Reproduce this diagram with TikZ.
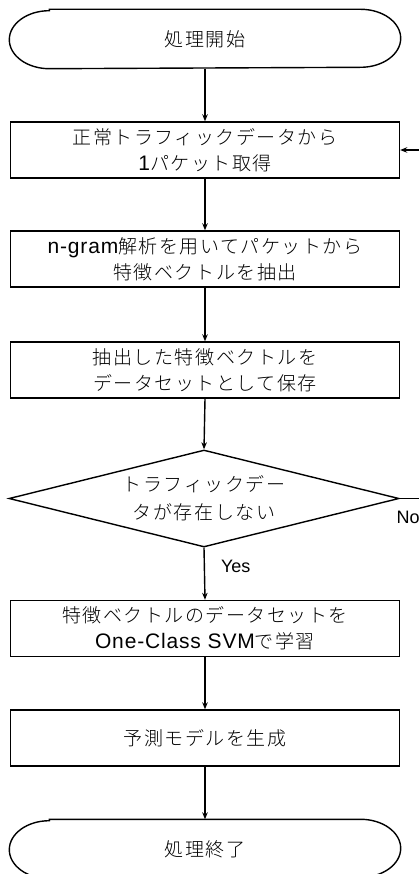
\documentclass[tikz,border=0pt]{standalone}
\usepackage{fontspec}
\setmainfont{Noto Sans CJK JP}[UprightFont={* Light}, LetterSpace=8]
\newfontfamily\latf{Liberation Sans}[LetterSpace=4]
\newfontfamily\arialf{Liberation Sans}
\newcommand{\lt}[1]{{\latf\fontsize{21}{26}\selectfont #1}}
\usetikzlibrary{arrows.meta,shapes.geometric}
\begin{document}
\begin{tikzpicture}[x=1pt,y=-1pt,
  line width=1.4pt,
  every node/.style={font=\fontsize{19}{26}\selectfont},
  box/.style={draw, rectangle, minimum width=389pt, minimum height=56pt, align=center, inner sep=0pt},
  termtext/.style={minimum width=390pt, minimum height=58pt, inner sep=0pt},
  decbox/.style={draw, diamond, minimum width=390pt, minimum height=97pt, aspect=3.9, inner sep=0pt, align=center, font=\fontsize{19}{28}\selectfont},
  arr/.style={-{Stealth[length=7pt,width=5.5pt]}},
  lbl/.style={font=\arialf\fontsize{18}{20}\selectfont, inner sep=0pt}
]
\useasboundingbox (0,0) rectangle (419,874);
\fill[white] (0,0) rectangle (419,874);

% start terminal
\node[termtext] (start) at (205,39) {処理開始};
\draw ([xshift=40pt]start.north west) -- ([xshift=-40pt]start.north east)
  arc[start angle=90, end angle=-90, x radius=40pt, y radius=29pt]
  -- ([xshift=40pt]start.south west)
  arc[start angle=-90, end angle=-270, x radius=40pt, y radius=29pt] -- cycle;

\node[box] (b1) at (205,150) {正常トラフィックデータから\\\lt{1}パケット取得};
\node[box] (b2) at (205,259) {\lt{n-gram}解析を用いてパケットから\\特徴ベクトルを抽出};
\node[box] (b3) at (205,370) {抽出した特徴ベクトルを\\データセットとして保存};
\node[decbox] (dec) at (204,498.5) {トラフィックデー\\タが存在しない};
\node[box] (b4) at (205,628.5) {特徴ベクトルのデータセットを\\\lt{One-Class SVM}で学習};
\node[box] (b5) at (205,738) {予測モデルを生成};

% end terminal
\node[termtext] (end) at (205,849) {処理終了};
\draw ([xshift=40pt]end.north west) -- ([xshift=-40pt]end.north east)
  arc[start angle=90, end angle=-90, x radius=40pt, y radius=29pt]
  -- ([xshift=40pt]end.south west)
  arc[start angle=-90, end angle=-270, x radius=40pt, y radius=29pt] -- cycle;

\draw[arr] (start.south) -- (b1.north);
\draw[arr] (b1.south) -- (b2.north);
\draw[arr] (b2.south) -- (b3.north);
\draw[arr] (b3.south) -- (dec.north);
\draw[arr] (dec.south) -- node[lbl, anchor=west, pos=0.35, xshift=16pt] (yes) {Yes} (b4.north);
\draw[arr] (b4.south) -- (b5.north);
\draw[arr] (b5.south) -- (end.north);

\coordinate (noR) at (445,498.5);
\draw[arr] (dec.east) -- (noR) |- (b1.east);
\node[lbl, anchor=north west] (no) at (396,510) {No};
\end{tikzpicture}
\end{document}
